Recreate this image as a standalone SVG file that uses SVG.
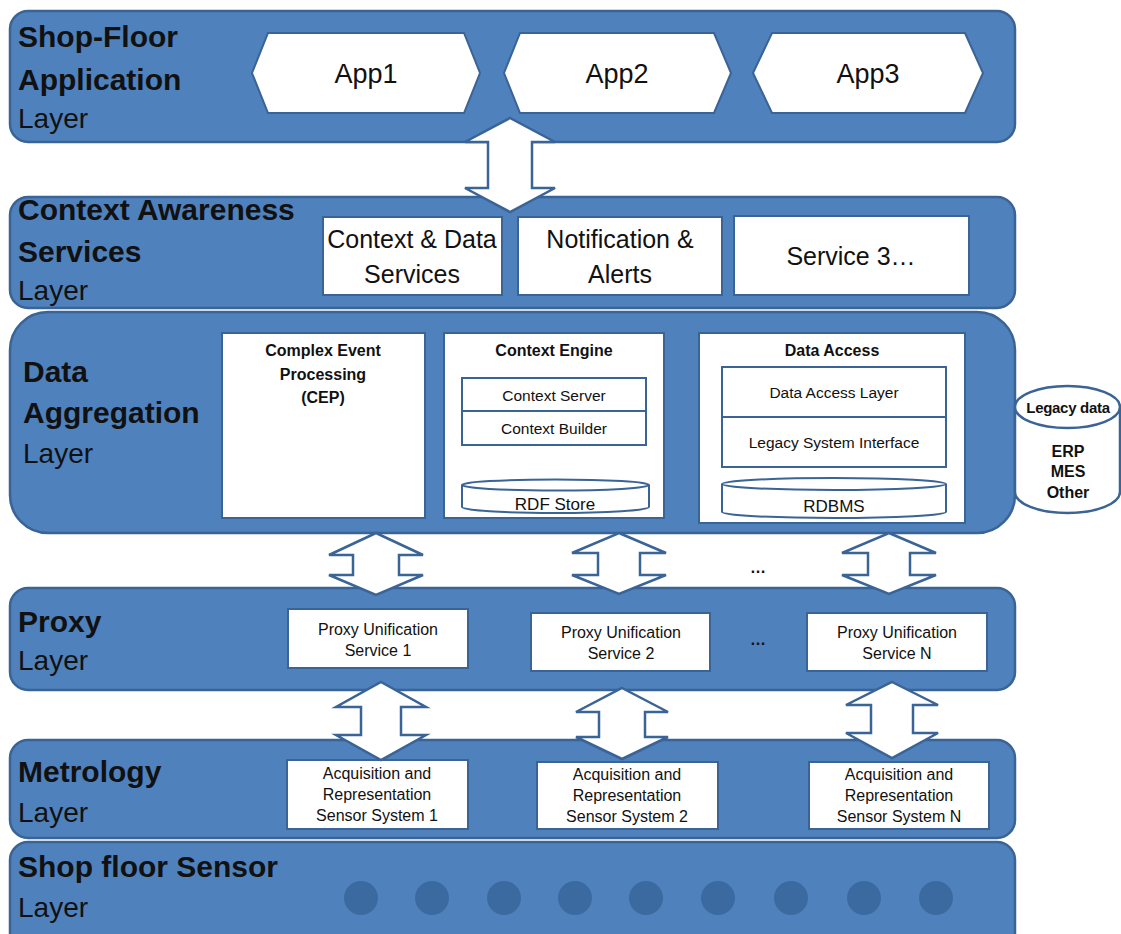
<svg xmlns="http://www.w3.org/2000/svg" width="1121" height="934" viewBox="0 0 1121 934">
<style>
.layer{fill:#4F81BD;stroke:#3A6396;stroke-width:2.5}
.box{fill:#FFFFFF;stroke:#3A6396;stroke-width:2}
.arrow{fill:#FFFFFF;stroke:#3A6396;stroke-width:2.5;stroke-linejoin:miter}
.t{font-family:"Liberation Sans",Arial,sans-serif;fill:#111111}
.lb{font-size:30px;font-weight:bold}
.lr{font-size:28px}
.big{font-size:27px;text-anchor:middle}
.mid{font-size:25px;text-anchor:middle}
.sm{font-size:16px;text-anchor:middle}
.s15{font-size:15.5px;text-anchor:middle}
.s17{font-size:17px;text-anchor:middle}
.smb{font-size:16px;font-weight:bold;text-anchor:middle}
.leg{font-size:15px;font-weight:bold;text-anchor:middle;letter-spacing:-0.3px}
.dot{fill:#3B6AA0}
</style>
<rect width="1121" height="934" fill="#FFFFFF"/>

<g id="layer-shopfloor-app">
<rect class="layer" x="10" y="11" width="1005" height="131" rx="18"/>
<text class="t lb" x="18" y="47">Shop-Floor</text>
<text class="t lb" x="18" y="90">Application</text>
<text class="t lr" x="18" y="128">Layer</text>
</g>
<g id="app1">
<polygon class="box" points="252,73 268,33 464,33 480,73 464,113 268,113"/>
<text class="t big" x="366" y="83">App1</text>
</g>
<g id="app2">
<polygon class="box" points="504,73 520,33 714,33 731,73 714,113 520,113"/>
<text class="t big" x="617" y="83">App2</text>
</g>
<g id="app3">
<polygon class="box" points="753,73 772,33 965,33 983,73 965,113 772,113"/>
<text class="t big" x="868" y="83">App3</text>
</g>

<g id="layer-context-awareness">
<rect class="layer" x="10" y="197" width="1005" height="111" rx="18"/>
<text class="t lb" x="18" y="220">Context Awareness</text>
<text class="t lb" x="18" y="262">Services</text>
<text class="t lr" x="18" y="300">Layer</text>
</g>
<g id="svc-context-data">
<rect class="box" x="323" y="217" width="179" height="78"/>
<text class="t mid" x="412" y="248">Context &amp; Data</text>
<text class="t mid" x="412" y="283">Services</text>
</g>
<g id="svc-notification">
<rect class="box" x="518" y="217" width="204" height="78"/>
<text class="t mid" x="620" y="248">Notification &amp;</text>
<text class="t mid" x="620" y="283">Alerts</text>
</g>
<g id="svc-3">
<rect class="box" x="734" y="216" width="235" height="79"/>
<text class="t mid" x="851" y="265">Service 3…</text>
</g>

<g id="layer-data-aggregation">
<rect class="layer" x="10" y="312" width="1005" height="221" rx="38"/>
<text class="t lb" x="23" y="382">Data</text>
<text class="t lb" x="23" y="423">Aggregation</text>
<text class="t lr" x="23" y="463">Layer</text>
</g>
<g id="cep">
<rect class="box" x="222" y="333" width="203" height="185"/>
<text class="t smb" x="323" y="356">Complex Event</text>
<text class="t smb" x="323" y="380">Processing</text>
<text class="t smb" x="323" y="403">(CEP)</text>
</g>
<g id="context-engine">
<rect class="box" x="444" y="333" width="220" height="185"/>
<text class="t smb" x="554" y="356">Context Engine</text>
<rect class="box" x="462" y="378" width="184" height="33"/>
<text class="t s15" x="554" y="401">Context Server</text>
<rect class="box" x="462" y="411" width="184" height="34"/>
<text class="t s15" x="554" y="434">Context Builder</text>
<path class="box" d="M462,485 L462,507 A93.5,6 0 0 0 649,507 L649,485"/>
<ellipse class="box" cx="555.5" cy="485" rx="93.5" ry="5.5"/>
<text class="t s17" x="555" y="510">RDF Store</text>
</g>
<g id="data-access">
<rect class="box" x="699" y="333" width="266" height="190"/>
<text class="t smb" x="832" y="356">Data Access</text>
<rect class="box" x="722" y="367" width="224" height="50"/>
<text class="t s15" x="834" y="398">Data Access Layer</text>
<rect class="box" x="722" y="417" width="224" height="50"/>
<text class="t s15" x="834" y="448">Legacy System Interface</text>
<path class="box" d="M722,484 L722,512 A112,6 0 0 0 946,512 L946,484"/>
<ellipse class="box" cx="834" cy="484" rx="112" ry="6"/>
<text class="t s17" x="834" y="512">RDBMS</text>
</g>
<g id="legacy-data">
<path class="box" d="M1015,407 L1015,492 A52.5,21 0 0 0 1120,492 L1120,407" style="stroke-width:2.5px"/>
<ellipse class="box" cx="1067.5" cy="407" rx="52.5" ry="21" style="stroke-width:2.5px"/>
<text class="t leg" x="1068" y="413">Legacy data</text>
<text class="t smb" x="1068" y="457">ERP</text>
<text class="t smb" x="1068" y="477">MES</text>
<text class="t smb" x="1068" y="498">Other</text>
</g>

<g id="layer-proxy">
<rect class="layer" x="10" y="588" width="1005" height="102" rx="18"/>
<text class="t lb" x="18" y="632">Proxy</text>
<text class="t lr" x="18" y="670">Layer</text>
<text class="t smb" x="758" y="645">…</text>
</g>
<g id="pus1">
<rect class="box" x="288" y="609" width="180" height="59"/>
<text class="t sm" x="378" y="635">Proxy Unification</text>
<text class="t sm" x="378" y="656">Service 1</text>
</g>
<g id="pus2">
<rect class="box" x="531" y="613" width="179" height="58"/>
<text class="t sm" x="621" y="638">Proxy Unification</text>
<text class="t sm" x="621" y="659">Service 2</text>
</g>
<g id="pusn">
<rect class="box" x="807" y="613" width="180" height="58"/>
<text class="t sm" x="897" y="638">Proxy Unification</text>
<text class="t sm" x="897" y="659">Service N</text>
</g>

<g id="layer-metrology">
<rect class="layer" x="10" y="740" width="1005" height="98" rx="18"/>
<text class="t lb" x="18" y="782">Metrology</text>
<text class="t lr" x="18" y="822">Layer</text>
</g>
<g id="ars1">
<rect class="box" x="287" y="760" width="181" height="69"/>
<text class="t sm" x="377" y="779">Acquisition and</text>
<text class="t sm" x="377" y="800">Representation</text>
<text class="t sm" x="377" y="821">Sensor System 1</text>
</g>
<g id="ars2">
<rect class="box" x="537" y="762" width="181" height="67"/>
<text class="t sm" x="627" y="780">Acquisition and</text>
<text class="t sm" x="627" y="801">Representation</text>
<text class="t sm" x="627" y="822">Sensor System 2</text>
</g>
<g id="arsn">
<rect class="box" x="809" y="762" width="180" height="67"/>
<text class="t sm" x="899" y="780">Acquisition and</text>
<text class="t sm" x="899" y="801">Representation</text>
<text class="t sm" x="899" y="822">Sensor System N</text>
</g>

<g id="layer-sensor">
<rect class="layer" x="10" y="842" width="1005" height="110" rx="18"/>
<text class="t lb" x="18" y="877">Shop floor Sensor</text>
<text class="t lr" x="18" y="917">Layer</text>
<circle class="dot" cx="361" cy="898" r="17"/>
<circle class="dot" cx="432" cy="898" r="17"/>
<circle class="dot" cx="504" cy="898" r="17"/>
<circle class="dot" cx="575" cy="898" r="17"/>
<circle class="dot" cx="646" cy="898" r="17"/>
<circle class="dot" cx="718" cy="898" r="17"/>
<circle class="dot" cx="791" cy="898" r="17"/>
<circle class="dot" cx="864" cy="898" r="17"/>
<circle class="dot" cx="936" cy="898" r="17"/>
</g>

<g id="connectors">
<polygon class="arrow" points="510,118 555,142 532,142 532,188 555,188 510,212 465,188 488,188 488,142 465,142"/>
<polygon class="arrow" points="376,533 423,555 399,555 399,575 423,575 376,595 329,575 353,575 353,555 329,555"/>
<polygon class="arrow" points="619,533 666,553 640,553 640,575 666,575 619,594 572,575 598,575 598,553 572,553"/>
<polygon class="arrow" points="889,533 936,553 910,553 910,575 936,575 889,594 842,575 868,575 868,553 842,553"/>
<polygon class="arrow" points="381,682 426,707 401,707 401,735 426,735 381,760 336,735 361,735 361,707 336,707"/>
<polygon class="arrow" points="622,688 668,712 645,712 645,737 668,737 622,759 576,737 599,737 599,712 576,712"/>
<polygon class="arrow" points="892,682 938,705 913,705 913,733 938,733 892,758 846,733 871,733 871,705 846,705"/>
<text class="t smb" x="758" y="573">…</text>
</g>
</svg>
